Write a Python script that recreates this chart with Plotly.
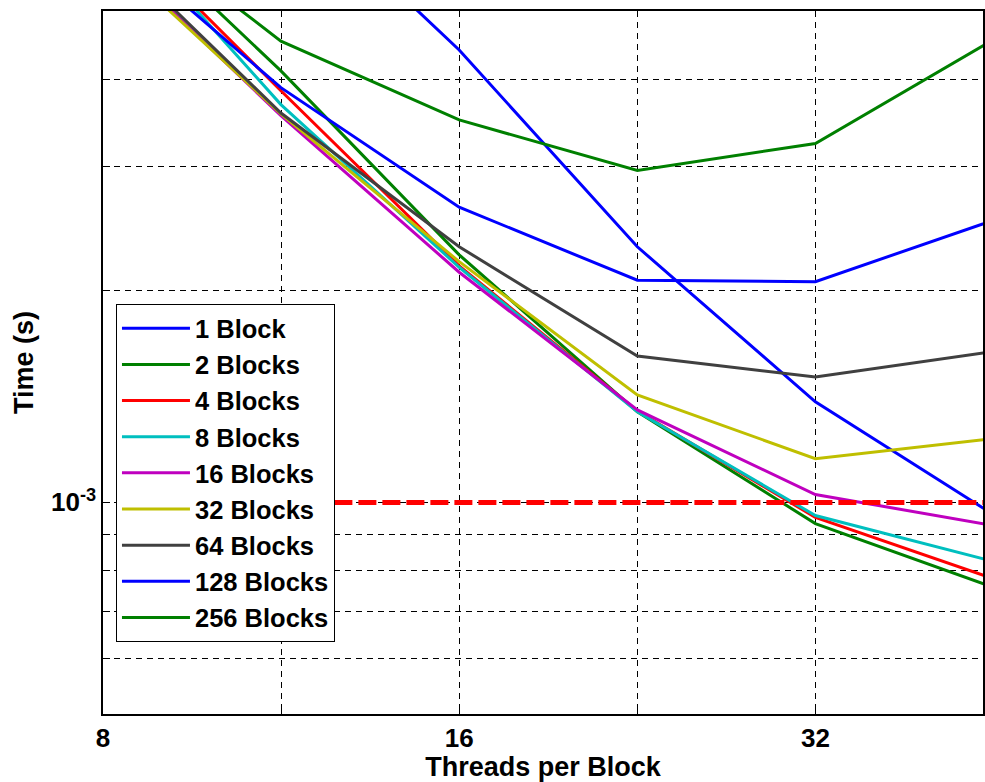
import math
import plotly.graph_objects as go

# ---- data (seconds) ----
threads = [8, 11.31, 16, 22.63, 32, 45.25]
series_names = ["1 Block", "2 Blocks", "4 Blocks", "8 Blocks", "16 Blocks",
                "32 Blocks", "64 Blocks", "128 Blocks", "256 Blocks"]
b1 = [0.0137, 0.00764, 0.00440, 0.00231, 0.00139, 0.000961]
b2 = [0.00714, 0.00411, 0.00225, 0.001345, 0.000933, 0.000757]
b4 = [0.00689, 0.00385, 0.00217, 0.001349, 0.000952, 0.000779]
b8 = [0.00705, 0.00368, 0.00216, 0.001345, 0.000958, 0.000824]
b16 = [0.00620, 0.00355, 0.002125, 0.001354, 0.001026, 0.000927]
b32 = [0.00612, 0.00357, 0.00220, 0.001422, 0.001154, 0.001232]
b64 = [0.00630, 0.00358, 0.00231, 0.001615, 0.001508, 0.001639]
b128 = [0.00643, 0.00389, 0.00263, 0.00207, 0.00206, 0.00252]
b256 = [0.00709, 0.00453, 0.00350, 0.002965, 0.00324, 0.00455]
series_values = [b1, b2, b4, b8, b16, b32, b64, b128, b256]

threshold_x = [12.55, 50]
threshold_y = [1e-3, 1e-3]

x_tickvals = [8, 11.3137, 16, 22.6274, 32]
x_ticktext = ["8", "", "16", "", "32"]
y_tickvals = [6e-4, 7e-4, 8e-4, 9e-4, 1e-3, 2e-3, 3e-3, 4e-3]
y_ticktext = ["", "", "", "", "10<sup>-3</sup>", "", "", ""]

colors = ["#0000FF", "#008000", "#FF0000", "#00BFBF", "#BF00BF",
          "#BFBF00", "#404040", "#0000FF", "#008000"]

FONT = "Liberation Sans, Arial, Helvetica, sans-serif"

fig = go.Figure()
for name, vals, col in zip(series_names, series_values, colors):
    fig.add_trace(go.Scatter(x=threads, y=vals, mode="lines", name=name,
                             line=dict(color=col, width=3)))

fig.add_trace(go.Scatter(x=threshold_x, y=threshold_y, mode="lines",
                         showlegend=False, hoverinfo="skip",
                         line=dict(color="#FF0000", width=5, dash="18px,6px")))

W, H = 985, 782
L, R, T, B = 103, 0, 11, 66
plot_w = W - L - R
x_max = 8 * 2 ** (plot_w / 357.0)

fig.update_layout(
    width=W, height=H,
    margin=dict(l=L, r=R, t=T, b=B),
    paper_bgcolor="white", plot_bgcolor="white",
    font=dict(family=FONT, size=26, color="black", weight="bold"),
    showlegend=True,
    legend=dict(x=(116 - L) / plot_w, y=(H - B - 305) / (H - B - T),
                xanchor="left", yanchor="top",
                bgcolor="white", bordercolor="black", borderwidth=1,
                font=dict(family=FONT, size=25.5, color="black", weight="bold"),
                itemwidth=68, tracegroupgap=0),
    xaxis=dict(type="log", range=[math.log10(8), math.log10(x_max)],
               tickvals=x_tickvals, ticktext=x_ticktext,
               ticks="inside", ticklen=7, tickcolor="black", tickwidth=1,
               showline=True, linecolor="black", linewidth=1.5, mirror=True,
               showgrid=True, gridcolor="black", gridwidth=1, griddash="6px,5px",
               zeroline=False,
               tickfont=dict(size=26),
               title=dict(text="Threads per Block", font=dict(size=27), standoff=10)),
    yaxis=dict(type="log", range=[math.log10(5e-4), math.log10(5e-3)],
               tickvals=y_tickvals, ticktext=y_ticktext,
               ticks="inside", ticklen=7, tickcolor="black", tickwidth=1,
               showline=True, linecolor="black", linewidth=1.5, mirror=True,
               showgrid=True, gridcolor="black", gridwidth=1, griddash="6px,5px",
               zeroline=False,
               tickfont=dict(size=26),
               title=dict(text="Time (s)", font=dict(size=27), standoff=10)),
)

fig.write_html("out.html")
